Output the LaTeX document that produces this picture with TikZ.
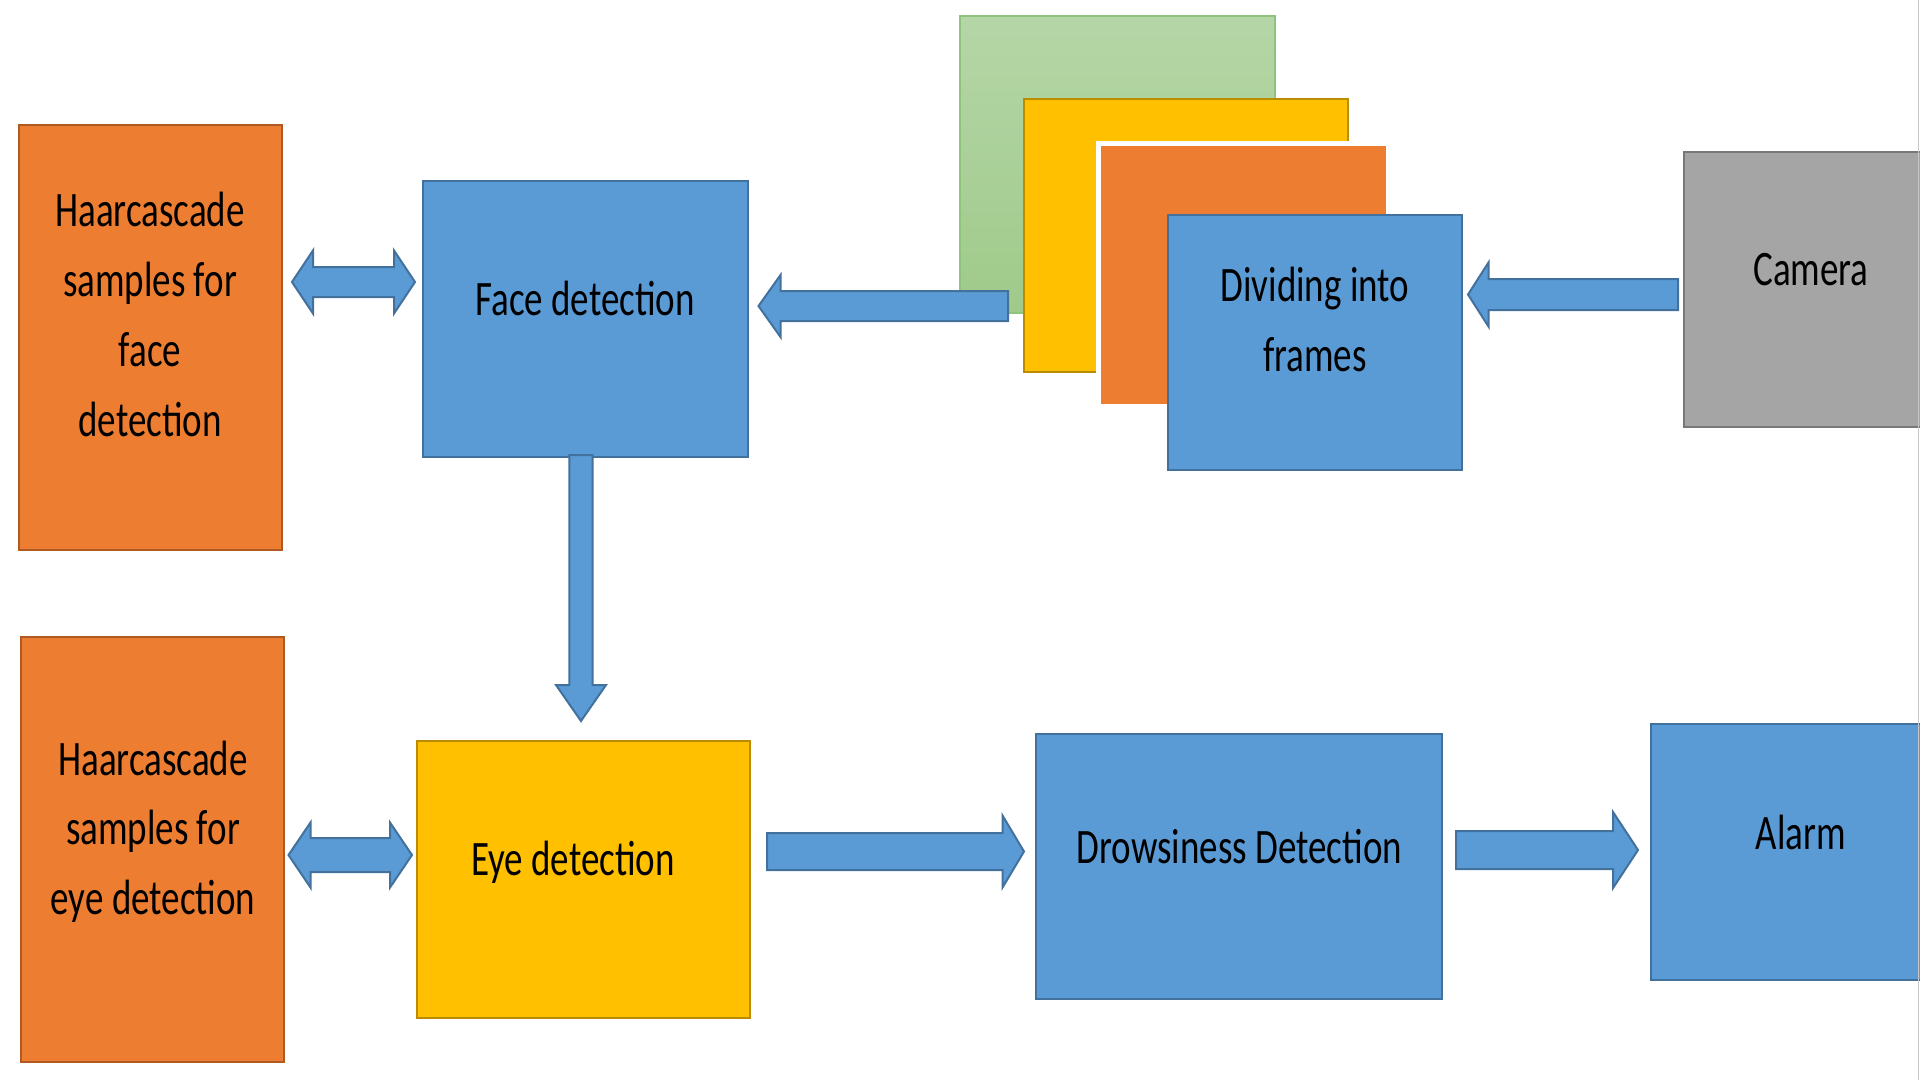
\documentclass[tikz,border=0pt]{standalone}
\usepackage{fontspec}
\setmainfont{Carlito}
\usetikzlibrary{calc}
\definecolor{bfill}{HTML}{5B9BD5}
\definecolor{bdraw}{HTML}{41719C}
\definecolor{ofill}{HTML}{ED7D31}
\definecolor{odraw}{HTML}{AE5A21}
\definecolor{yfill}{HTML}{FFC000}
\definecolor{ydraw}{HTML}{BC8C00}
\definecolor{gfill}{HTML}{A5A5A5}
\definecolor{gdraw}{HTML}{787878}
\definecolor{grtop}{HTML}{B5D6A7}
\definecolor{grbot}{HTML}{9FCA8A}
\definecolor{grdraw}{HTML}{8FC27A}
\newcommand\lbl[1]{\scalebox{1}[1.34]{\begin{tabular}[t]{@{}c@{}}#1\end{tabular}}}
\newcommand\barrow[5]{%
  \coordinate (tmpH) at ($(#2)!#5!(#1)$);
  \draw[blk] ($(#1)!#3!90:(#2)$) -- ($(tmpH)!#3!90:(#2)$) -- ($(tmpH)!#4!90:(#2)$) -- (#2)
    -- ($(tmpH)!#4!-90:(#2)$) -- ($(tmpH)!#3!-90:(#2)$) -- ($(#1)!#3!-90:(#2)$) -- cycle;}
\newcommand\dbarrow[5]{%
  \coordinate (tmpA) at ($(#1)!#5!(#2)$);
  \coordinate (tmpB) at ($(#2)!#5!(#1)$);
  \draw[blk] (#1) -- ($(tmpA)!#4!90:(#2)$) -- ($(tmpA)!#3!90:(#2)$) -- ($(tmpB)!#3!90:(#2)$)
    -- ($(tmpB)!#4!90:(#2)$) -- (#2) -- ($(tmpB)!#4!-90:(#2)$) -- ($(tmpB)!#3!-90:(#2)$)
    -- ($(tmpA)!#3!-90:(#2)$) -- ($(tmpA)!#4!-90:(#2)$) -- cycle;}
\tikzset{
  bx/.style={inner sep=0pt, line width=2pt, rectangle},
  bluebox/.style={bx, fill=bfill, draw=bdraw},
  orangebox/.style={bx, fill=ofill, draw=odraw},
  yellowbox/.style={bx, fill=yfill, draw=ydraw},
  greybox/.style={bx, fill=gfill, draw=gdraw},
  greenbox/.style={bx, top color=grtop, bottom color=grbot, draw=grdraw},
  blk/.style={fill=bfill, draw=bdraw, line width=2pt, line join=miter},
  txt/.style={inner sep=0pt, anchor=base, font=\fontsize{37}{52.2}\selectfont, text=black},
}
\begin{document}
\begin{tikzpicture}[x=1pt, y=-1pt]
\useasboundingbox (0,0) rectangle (1920,1080);
\clip (0,0) rectangle (1920,1080);
\fill[white] (0,0) rectangle (1920,1080);

% boxes
\node[orangebox, minimum width=263.5pt, minimum height=424.5pt] (haar1) at (150.25,337.25) {};
\node[bluebox, minimum width=324.5pt, minimum height=276pt] (face) at (585.25,319) {};
\node[greenbox, minimum width=314.5pt, minimum height=297pt] (green) at (1117.25,164.5) {};
\coordinate (a2s) at (1008,306);
\node[orangebox, minimum width=262.5pt, minimum height=425pt] (haar2) at (152.25,849.5) {};
\node[yellowbox, minimum width=333pt, minimum height=276.5pt] (eye) at (583.5,879.25) {};
\node[bluebox, minimum width=405.5pt, minimum height=265pt] (drowsy) at (1238.75,866.5) {};
\node[bluebox, minimum width=279pt, minimum height=256pt] (alarm) at (1790.5,852) {};
\node[greybox, minimum width=246pt, minimum height=275pt] (cam) at (1807,289.5) {};

% arrow from frames to face detection (drawn over the green frame)
\coordinate (a2t) at ($(face.east|-0,306)+(10,0)$);
\barrow{a2s}{a2t}{15pt}{31pt}{22pt}

\node[yellowbox, minimum width=324pt, minimum height=273pt] (yellow) at (1186,235.5) {};
\node[bx, fill=ofill, draw=white, line width=5pt, minimum width=290pt, minimum height=263pt] (oframe) at (1243,274.5) {};
\node[bluebox, minimum width=294pt, minimum height=255pt] (div) at (1315,342.5) {};

% texts
\node[txt] (t1) at (150,226.7) {\lbl{Haarcascade\\samples for\\face\\detection}};
\node[txt] (t2) at (585,315) {\lbl{Face detection}};
\node[txt] (t3) at (1315,301.7) {\lbl{Dividing into\\frames}};
\node[txt] (t4) at (1811,285) {\lbl{Camera}};
\node[txt] (t5) at (153,775) {\lbl{Haarcascade\\samples for\\eye detection}};
\node[txt] (t6) at (573,875) {\lbl{Eye detection}};
\node[txt] (t7) at (1239.5,863.3) {\lbl{Drowsiness Detection}};
\node[txt] (t8) at (1801,849) {\lbl{Alarm}};

% connectors
\coordinate (d1s) at ($(haar1.east|-0,282)+(9,0)$);
\coordinate (d1t) at ($(face.west|-0,282)+(-7,0)$);
\dbarrow{d1s}{d1t}{15pt}{31.5pt}{21pt}

\coordinate (a3s) at ($(cam.west|-0,294.5)+(-5,0)$);
\coordinate (a3t) at ($(div.east|-0,294.5)+(5,0)$);
\barrow{a3s}{a3t}{15.5pt}{32pt}{20.5pt}

\coordinate (a4s) at ($(face.south-|581,0)+(0,-3)$);
\coordinate (a4t) at ($(eye.north-|581,0)+(0,-19)$);
\barrow{a4s}{a4t}{11.7pt}{25pt}{36pt}

\coordinate (d2s) at ($(haar2.east|-0,855)+(4,0)$);
\coordinate (d2t) at ($(eye.west|-0,855)+(-4,0)$);
\dbarrow{d2s}{d2t}{17pt}{32.5pt}{22pt}

\coordinate (a5s) at ($(eye.east|-0,851.5)+(16,0)$);
\coordinate (a5t) at ($(drowsy.west|-0,851.5)+(-11,0)$);
\barrow{a5s}{a5t}{18.5pt}{36pt}{21.5pt}

\coordinate (a6s) at ($(drowsy.east|-0,850)+(13.5,0)$);
\coordinate (a6t) at ($(alarm.west|-0,850)+(-12,0)$);
\barrow{a6s}{a6t}{19pt}{38pt}{25pt}

% right image border
\draw[color=black!22, line width=1.5pt] (1918.5,0) -- (1918.5,1080);
\end{tikzpicture}
\end{document}
